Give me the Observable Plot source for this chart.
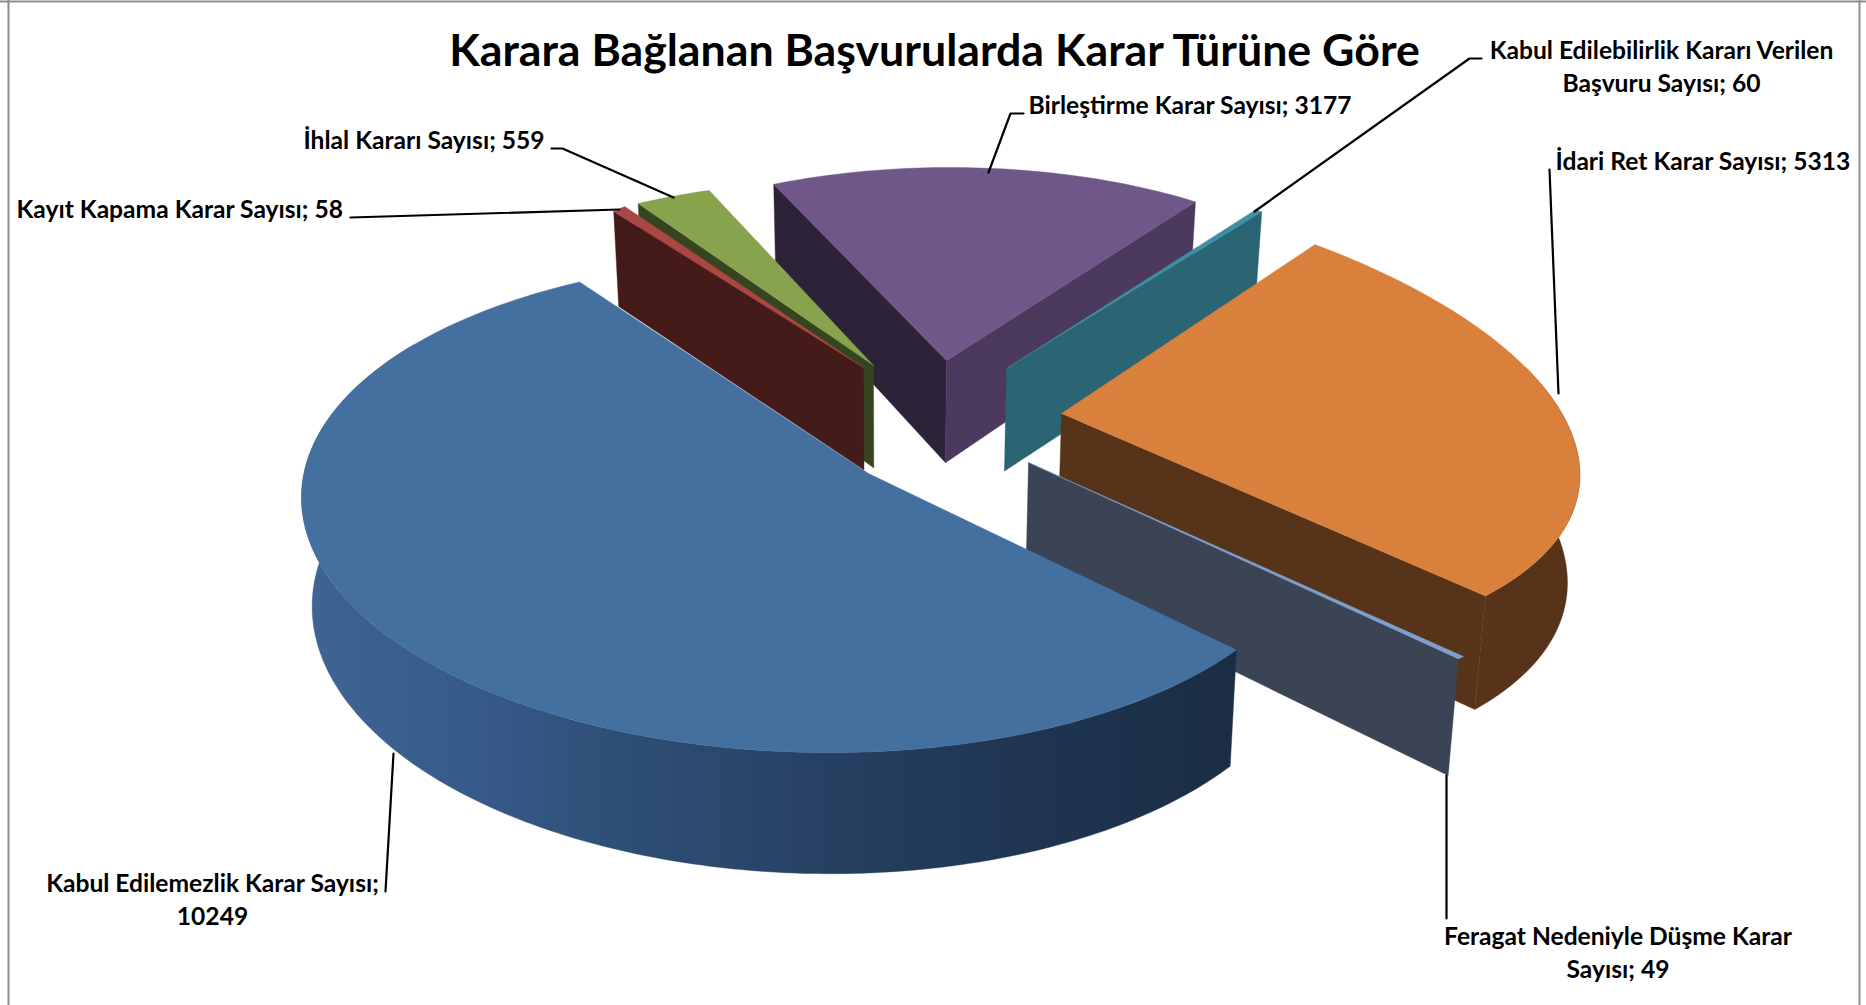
<!DOCTYPE html>
<html lang="tr">
<head>
<meta charset="utf-8">
<script src="https://cdn.jsdelivr.net/npm/d3@7"></script>
<script src="https://cdn.jsdelivr.net/npm/@observablehq/plot@0.6"></script>
<style>
html,body{margin:0;padding:0;background:#fff}
svg{display:block}
</style>
</head>
<body>
<div id="chart"></div>
<script>
// ---- chart data, in the clockwise order of the pie ----
const names = ["Kabul Edilemezlik Karar Sayısı", "Kayıt Kapama Karar Sayısı", "İhlal Kararı Sayısı", "Birleştirme Karar Sayısı", "Kabul Edilebilirlik Kararı Verilen Başvuru Sayısı", "İdari Ret Karar Sayısı", "Feragat Nedeniyle Düşme Karar Sayısı"];
const values = [10249, 58, 559, 3177, 60, 5313, 49];
const title = "Karara Bağlanan Başvurularda Karar Türüne Göre";

// ---- styling ----
const topColors  = ["#44709f", "#aa4643", "#87a34d", "#705789", "#3e8ea6", "#d9813c", "#7f9fcf"];
const wallColors = ["url(#blueWall)", "#441b19", "#36441f", "#2c2338", "#2b6472", "#57331a", "#3b4454"];
const font = "Lato, Carlito, 'Open Sans', sans-serif";

// ---- 3D pie camera: one projection per exploded slice ----
const firstAngle = 134.4;
const camera = [
  {o: [812, 505], m: [[511, 0], [8, 247]], a: [0.1096, -0.133], rot: -0.5},
  {o: [863, 367], m: [[621, -143], [-125, 284]]},
  {o: [873, 365], m: [[442, -22], [21, 183]]},
  {o: [946, 360], m: [[432, -8], [2, 193]]},
  {o: [1006, 368], m: [[400, -30], [-4, 189]]},
  {o: [1061, 413], m: [[551, 64], [34.5, 241]], w: [0.0716, -0.0076]},
  {o: [1028, 462], m: [[540, 63], [35, 245]]}
];
// faces: radial walls drawn at the first / second edge, and the visible part of the rim (degrees past the slice start)
const faces = [
  {rimFrom: 0, rimTo: 165},
  {first: true},
  {first: true},
  {first: true, second: true, firstColor: "#2c2338", secondColor: "#4b3a5e"},
  {second: true},
  {second: true, rimFrom: 35, rimTo: 98.26},
  {second: true}
];
const drawOrder = [3, 2, 1, 4, 5, 6, 0];

// ---- label layout ----
const labelLayout = [
  {x: 212, y: 897, anchor: "middle", lines: ["Kabul Edilemezlik Karar Sayısı;", "10249"], leader: [[393, 753], [385, 891]]},
  {x: 16, y: 207, anchor: "start", lines: null, leader: [[350, 217], [619, 209]]},
  {x: 303, y: 138, anchor: "start", lines: null, leader: [[551, 148], [562, 148], [673, 197]]},
  {x: 1028, y: 103, anchor: "start", lines: null, leader: [[1023, 113], [1010, 113], [988, 172]]},
  {x: 1661, y: 64.5, anchor: "middle", lines: ["Kabul Edilebilirlik Kararı Verilen", "Başvuru Sayısı; 60"], leader: [[1481, 58], [1469, 58], [1254, 211]]},
  {x: 1555, y: 159, anchor: "start", lines: null, leader: [[1549, 169], [1558, 393]]},
  {x: 1617.5, y: 950.5, anchor: "middle", lines: ["Feragat Nedeniyle Düşme Karar", "Sayısı; 49"], leader: [[1446, 775], [1446, 918]]}
];

// ---- geometry from the values ----
const total = d3.sum(values);
let running = firstAngle;
const slices = values.map((v, i) => {
  const start = running;
  running += v / total * 360;
  return {i, start, end: running};
});

function project(cam, theta, r = 1) {
  const t = (theta + (cam.rot ?? 0)) * Math.PI / 180;
  let ux = r * Math.sin(t), uy = -r * Math.cos(t);
  const [[a, b], [c, d]] = cam.m;
  if (cam.a) { // off-axis perspective of the disc
    const [ax, ay] = cam.a;
    const aa = ax * ax + ay * ay, au = ax * ux + ay * uy, k = Math.sqrt(1 - aa);
    const px = ax * au / aa, py = ay * au / aa;
    const den = 1 + au;
    ux = (ax + px + k * (ux - px)) / den;
    uy = (ay + py + k * (uy - py)) / den;
  } else if (cam.w) {
    const den = 1 + cam.w[0] * ux + cam.w[1] * uy;
    ux /= den; uy /= den;
  }
  return [cam.o[0] + a * ux + b * uy, cam.o[1] + c * ux + d * uy];
}
const apexOf = cam => project(cam, 0, 0);
const lower = ([x, y]) => [x - 0.018 * (x - 890), y * 1.048 + 85];
const asRows = pts => [...pts, pts[0]].map(([x, y]) => ({x, y}));
const arc = (cam, a, b) => d3.range(0, 1.0001, 1 / Math.max(2, Math.ceil(Math.abs(b - a)))).map(f => project(cam, a + (b - a) * f));

const polygon = (pts, color) => Plot.line(asRows(pts), {x: "x", y: "y", fill: color, stroke: color, strokeWidth: 0.4});

const pieMarks = [];
for (const i of drawOrder) {
  const s = slices[i], cam = camera[i], f = faces[i];
  const apex = apexOf(cam);
  const radial = (theta, color) => {
    const p = project(cam, theta);
    pieMarks.push(polygon([apex, p, lower(p), lower(apex)], color));
  };
  if (f.first) radial(s.start, f.firstColor ?? wallColors[i]);
  if (f.second) radial(s.end, f.secondColor ?? wallColors[i]);
  if (f.rimTo !== undefined) {
    const top = arc(cam, s.start + f.rimFrom, s.start + f.rimTo);
    pieMarks.push(polygon([...top, ...top.map(lower).reverse()], wallColors[i]));
  }
  pieMarks.push(polygon([apex, ...arc(cam, s.start, s.end)], topColors[i]));
}

// ---- gradient of the big rim ----
function gradientDefs() {
  const ns = "http://www.w3.org/2000/svg";
  const defs = document.createElementNS(ns, "defs");
  const g = document.createElementNS(ns, "linearGradient");
  g.setAttribute("id", "blueWall");
  g.setAttribute("gradientUnits", "userSpaceOnUse");
  g.setAttribute("x1", 300); g.setAttribute("x2", 1235); g.setAttribute("y1", 0); g.setAttribute("y2", 0);
  [[0, "#3f6594"], [0.2, "#36598a"], [0.3, "#30517a"], [0.6, "#253e5f"], [0.8, "#1e3450"], [1, "#1b2d44"]].forEach(([o, c]) => {
    const st = document.createElementNS(ns, "stop");
    st.setAttribute("offset", o); st.setAttribute("stop-color", c);
    g.appendChild(st);
  });
  defs.appendChild(g);
  return defs;
}

// ---- labels ----
const labelRows = labelLayout.map((l, i) => ({...l, text: l.lines ? l.lines.join("\n") : `${names[i]}; ${values[i]}`}));
const leaderMarks = labelLayout.map(l => Plot.line(l.leader.map(([x, y]) => ({x, y})), {x: "x", y: "y", stroke: "#000", strokeWidth: 2.2}));
const labelMarks = ["start", "middle"].map(anchor => Plot.text(labelRows.filter(d => d.anchor === anchor), {
  x: "x", y: "y", text: "text", textAnchor: anchor, lineAnchor: "middle", lineHeight: 1.35,
  fill: "#000", fontFamily: font, fontWeight: "bold", fontSize: 24.6
}));

const frameColor = "#8e8e8e";
const chart = Plot.plot({
  width: 1866, height: 1005,
  margin: 0,
  style: {background: "#fff"},
  x: {domain: [0, 1866], range: [0, 1866], axis: null},
  y: {domain: [0, 1005], range: [0, 1005], axis: null},
  marks: [
    gradientDefs,
    Plot.ruleY([1], {stroke: frameColor, strokeWidth: 2}),
    Plot.ruleX([8, 1859], {stroke: frameColor, strokeWidth: 2}),
    ...pieMarks,
    ...leaderMarks,
    ...labelMarks,
    Plot.text([title], {x: () => 934, y: () => 51, text: d => d, textAnchor: "middle", lineAnchor: "middle", fill: "#000", fontFamily: font, fontWeight: "bold", fontSize: 44.7})
  ]
});
document.getElementById("chart").appendChild(chart);
</script>
</body>
</html>
